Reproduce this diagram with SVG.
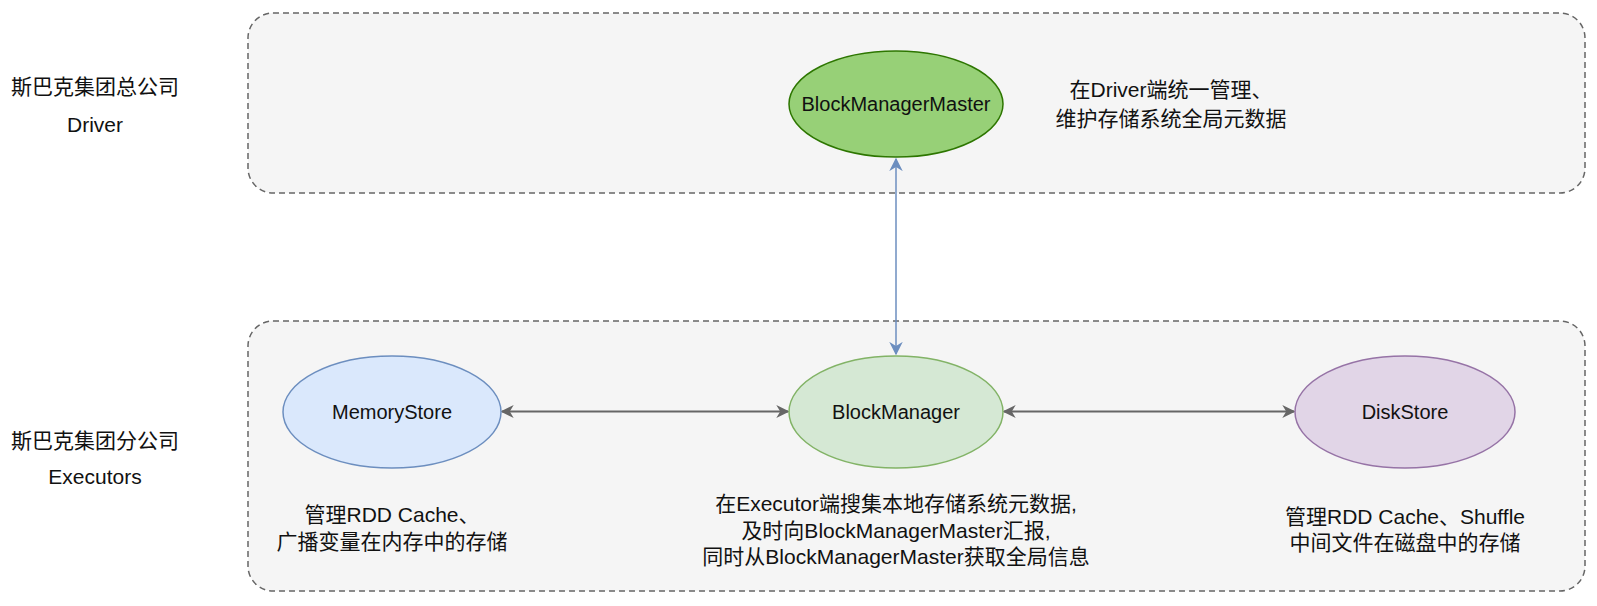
<svg xmlns="http://www.w3.org/2000/svg" width="1597" height="606" viewBox="0 0 1597 606">
<style>
.bg{fill:#ffffff}
.cont{fill:#f5f5f5;stroke:#666666;stroke-width:1.5;stroke-dasharray:6 4}
.t{font-family:"Liberation Sans","Noto Sans CJK SC",sans-serif;font-size:20px;fill:#111111;text-anchor:middle;dominant-baseline:central}
.n{font-size:21px}
.c{fill:none}
</style>
<defs>
<marker id="ag" viewBox="0 0 10 10" refX="9" refY="5" markerWidth="6.5" markerHeight="6.5" orient="auto-start-reverse" markerUnits="strokeWidth">
<path d="M0,0 L10,5 L0,10 L3,5 z" fill="#666666"/>
</marker>
<marker id="ab" viewBox="0 0 10 10" refX="9" refY="5" markerWidth="9" markerHeight="9" orient="auto-start-reverse" markerUnits="strokeWidth">
<path d="M0,0 L10,5 L0,10 L3,5 z" fill="#6c8ebf"/>
</marker>
</defs>
<rect class="bg" x="0" y="0" width="1597" height="606"/>
<g id="labels">
<text class="t n" x="95" y="86">斯巴克集团总公司</text>
<text class="t n" x="95" y="124">Driver</text>
<text class="t n" x="95" y="440">斯巴克集团分公司</text>
<text class="t n" x="95" y="476">Executors</text>
</g>
<g id="driver-container"><rect class="cont" x="248" y="13" width="1337" height="180" rx="25"/></g>
<g id="executor-container"><rect class="cont" x="248" y="321" width="1337" height="270" rx="25"/></g>
<g id="connectors">
<line class="c" stroke="#6c8ebf" stroke-width="1.5" x1="896" y1="159" x2="896" y2="354" marker-start="url(#ab)" marker-end="url(#ab)"/>
<line class="c" stroke="#666666" stroke-width="2" x1="502" y1="411.5" x2="788" y2="411.5" marker-start="url(#ag)" marker-end="url(#ag)"/>
<line class="c" stroke="#666666" stroke-width="2" x1="1004" y1="411.5" x2="1294" y2="411.5" marker-start="url(#ag)" marker-end="url(#ag)"/>
</g>
<g id="BlockManagerMaster">
<ellipse cx="896" cy="104" rx="107" ry="53" fill="#97d077" stroke="#2d7600" stroke-width="1.5"/>
<text class="t" x="896" y="104">BlockManagerMaster</text>
</g>
<g id="driver-note">
<text class="t n" x="1171" y="89">在Driver端统一管理、</text>
<text class="t n" x="1171" y="118">维护存储系统全局元数据</text>
</g>
<g id="MemoryStore">
<ellipse cx="392" cy="412" rx="109" ry="56" fill="#dae8fc" stroke="#6c8ebf" stroke-width="1.5"/>
<text class="t" x="392" y="412">MemoryStore</text>
</g>
<g id="BlockManager">
<ellipse cx="896" cy="412" rx="107" ry="56" fill="#d5e8d4" stroke="#82b366" stroke-width="1.5"/>
<text class="t" x="896" y="412">BlockManager</text>
</g>
<g id="DiskStore">
<ellipse cx="1405" cy="412" rx="110" ry="56" fill="#e1d5e7" stroke="#9673a6" stroke-width="1.5"/>
<text class="t" x="1405" y="412">DiskStore</text>
</g>
<g id="notes">
<text class="t n" x="392" y="514">管理RDD Cache、</text>
<text class="t n" x="392" y="541">广播变量在内存中的存储</text>
<text class="t n" x="896" y="503">在Executor端搜集本地存储系统元数据,</text>
<text class="t n" x="896" y="530">及时向BlockManagerMaster汇报,</text>
<text class="t n" x="896" y="556">同时从BlockManagerMaster获取全局信息</text>
<text class="t n" x="1405" y="516">管理RDD Cache、Shuffle</text>
<text class="t n" x="1405" y="542">中间文件在磁盘中的存储</text>
</g>
</svg>
